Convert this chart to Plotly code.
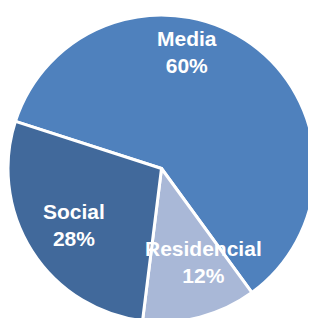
import plotly.graph_objects as go

labels = ["Media", "Residencial", "Social"]
values = [60, 12, 28]
colors = ["#4F81BD", "#A9B8D7", "#41699B"]
# label centres in page pixels (plot sits 8px in from the page edge)
label_pos = [(179, 44), (195, 254), (66, 217)]

W, H = 316, 318

fig = go.Figure(go.Pie(
    labels=labels, values=values, sort=False, direction="clockwise",
    rotation=-72.1, marker=dict(colors=colors, line=dict(color="white", width=3)),
    textinfo="none", hoverinfo="label+percent",
    domain=dict(x=[0.0, 307 / W], y=[1 - 314 / H, 1 - 7 / H]),
    showlegend=False,
))

for lab, v, (px, py) in zip(labels, values, label_pos):
    fig.add_annotation(
        x=px / W, y=1 - py / H, xref="paper", yref="paper",
        text=f"<b>{lab}<br>{v}%</b>", showarrow=False,
        font=dict(family="Liberation Sans, Arial", size=21, color="white"),
        xanchor="center", yanchor="middle",
    )

fig.update_layout(width=W, height=H, margin=dict(l=0, r=0, t=0, b=0),
                  paper_bgcolor="white", plot_bgcolor="white")
fig.write_html("out.html")
